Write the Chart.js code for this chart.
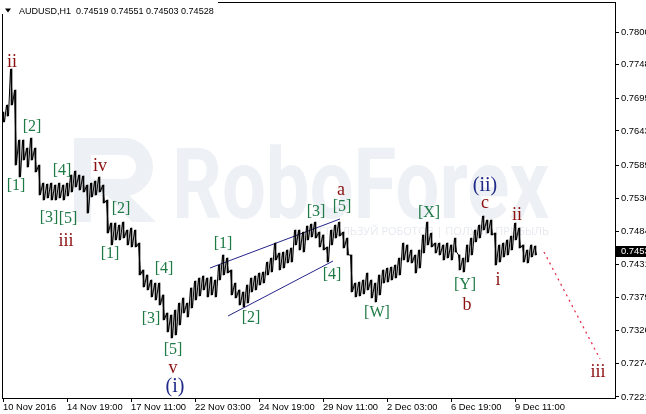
<!DOCTYPE html>
<html><head><meta charset="utf-8">
<script src="https://cdn.jsdelivr.net/npm/chart.js@4"></script>
<style>html,body{margin:0;padding:0;background:#fff;overflow:hidden}canvas{display:block}</style>
</head><body>
<canvas id="c" width="646" height="414" style="width:646px;height:414px"></canvas>
<script>
// ---------- data ----------
const symbol = 'AUDUSD,H1';
const headerOHLC = ['0.74519', '0.74551', '0.74503', '0.74528'];
const lastClose = 0.74528;

// high / low of each 4-bar (H1) block
const segHigh = [0.76730,0.76842,0.77413,0.77080,0.76287,0.76287,0.76160,0.76318,0.76160,0.75890,
0.75604,0.75588,0.75604,0.75573,0.75604,0.75573,0.75604,0.75732,0.75795,0.75732,
0.75716,0.75573,0.75604,0.75636,0.75700,0.75573,0.75335,0.74970,0.74970,0.74938,
0.74986,0.74859,0.74891,0.74859,0.74653,0.74225,0.74146,0.74066,0.74018,0.74018,
0.73829,0.73543,0.73511,0.73590,0.73701,0.73781,0.73701,0.73940,0.74050,0.74098,
0.74130,0.74098,0.74114,0.74066,0.74304,0.74463,0.74415,0.74225,0.74018,0.73908,
0.73876,0.73987,0.74098,0.74130,0.74177,0.74193,0.74351,0.74415,0.74653,0.74494,
0.74510,0.74542,0.74574,0.74859,0.74859,0.74827,0.74923,0.74954,0.74986,0.74827,
0.74780,0.74590,0.74859,0.74938,0.74986,0.74827,0.74732,0.74463,0.74018,0.74034,
0.74066,0.74177,0.74066,0.74018,0.74146,0.74225,0.74256,0.74272,0.74304,0.74415,
0.74653,0.74622,0.74542,0.74463,0.74542,0.74780,0.74986,0.74811,0.74653,0.74653,
0.74622,0.74653,0.74622,0.74732,0.74463,0.74415,0.74622,0.74732,0.74859,0.74938,
0.75081,0.75018,0.75018,0.74811,0.74622,0.74653,0.74701,0.74764,0.74970,0.74891,
0.74622,0.74542,0.74622,0.74606];
const segLow = [0.76572,0.76667,0.76842,0.75890,0.75700,0.75969,0.75858,0.75969,0.75779,0.75415,
0.75335,0.75367,0.75335,0.75335,0.75367,0.75335,0.75399,0.75462,0.75541,0.75494,
0.75462,0.75128,0.75383,0.75415,0.75462,0.75287,0.74811,0.74622,0.74701,0.74701,
0.74732,0.74622,0.74590,0.74590,0.74146,0.73955,0.73908,0.73797,0.73749,0.73670,
0.73432,0.73242,0.73146,0.73194,0.73353,0.73543,0.73479,0.73622,0.73749,0.73813,
0.73908,0.73797,0.73829,0.73797,0.74066,0.74146,0.74177,0.73829,0.73781,0.73670,
0.73638,0.73701,0.73876,0.73908,0.73987,0.74018,0.74146,0.74193,0.74383,0.74225,
0.74256,0.74336,0.74351,0.74622,0.74542,0.74510,0.74701,0.74748,0.74732,0.74590,
0.74542,0.74351,0.74622,0.74732,0.74764,0.74574,0.74463,0.73876,0.73797,0.73813,
0.73845,0.73908,0.73781,0.73717,0.73829,0.74018,0.74034,0.74066,0.74098,0.74146,
0.74383,0.74351,0.74336,0.74177,0.74256,0.74494,0.74622,0.74590,0.74494,0.74463,
0.74383,0.74415,0.74383,0.74510,0.74225,0.74193,0.74351,0.74463,0.74669,0.74732,
0.74859,0.74811,0.74780,0.74304,0.74351,0.74431,0.74463,0.74542,0.74701,0.74574,
0.74351,0.74336,0.74431,0.74463];

const timeLabels = ['10 Nov 2016','14 Nov 19:00','17 Nov 11:00','22 Nov 03:00','24 Nov 19:00','29 Nov 11:00','2 Dec 03:00','6 Dec 19:00','9 Dec 11:00'];
const timeTickBars = [1,65,129,193,257,321,385,449,513];
const priceTickLabels = ['0.7800','0.7748','0.7695','0.7643','0.7589','0.7536','0.7484','0.7431','0.7379','0.7326','0.7274','0.7221'];

// Elliott wave labels: text, bar, price, degree
const waveText  = ['ii','[2]','[1]','[4]','iv','[3]','[5]','iii','[2]','[1]','[4]','[3]','[5]','v','(i)','[1]','[2]','[3]','a','[5]','[4]','[W]','[X]','[Y]','b','(ii)','c','ii','i','iii'];
const waveBar   = [10,30,14,60,98,47,66,64,119,108,162,149,171,171,173,221,249,314,339,340,330,375,427,463,465,483,483,515,496,596];
const wavePrice = [0.77523,0.76493,0.75557,0.75795,0.75874,0.75050,0.75034,0.74685,0.75192,0.74479,0.74241,0.73448,0.72956,0.72671,0.72369,0.74637,0.73463,0.75145,0.75494,0.75224,0.74146,0.73543,0.75128,0.73987,0.73670,0.75557,0.75287,0.75097,0.74066,0.72608];
const waveKind  = ['r','g','g','g','r','g','g','r','g','g','g','g','g','r','b','g','g','g','r','g','g','g','g','g','r','b','r','r','r','r'];

const channelUpperBars = [208, 338], channelUpperPrices = [0.74256, 0.75034];
const channelLowerBars = [226, 331], channelLowerPrices = [0.73495, 0.74367];
const forecastBars = [542, 598], forecastPrices = [0.74510, 0.72813];

// ---------- build ----------
const zig = [];
segHigh.forEach((h, i) => { zig.push({x: 4*i + 0.5, y: h}); zig.push({x: 4*i + 2.5, y: segLow[i]}); });
const ranges = segHigh.map((h, i) => ({x: 4*i + 1.5, y: [segLow[i], h]}));
const pts = (b, p) => b.map((v, i) => ({x: v, y: p[i]}));
const priceTickValues = priceTickLabels.map(Number);
const AXFONT = '"Liberation Sans", Arial, sans-serif';

const mt4 = {
  id: 'mt4',
  beforeDraw(chart) {
    const c = chart.ctx; c.save(); c.fillStyle = '#fff'; c.fillRect(0, 0, chart.width, chart.height); c.restore();
  },
  beforeDatasetsDraw(chart) {
    const c = chart.ctx, a = chart.chartArea;
    c.save();
    c.beginPath(); c.rect(a.left, a.top, a.right - a.left, a.bottom - a.top); c.clip();
    const wm = '#edf0f4';
    c.fillStyle = wm; c.strokeStyle = wm;
    // logo
    c.fillRect(74, 138, 17, 84);
    c.lineWidth = 17;
    c.beginPath();
    c.moveTo(82, 146.5); c.lineTo(124, 146.5);
    c.arc(124, 167, 20.5, -Math.PI/2, Math.PI/2);
    c.lineTo(82, 187.5);
    c.stroke();
    c.beginPath(); c.moveTo(104, 192); c.lineTo(126, 192); c.lineTo(156, 222); c.lineTo(132, 222); c.closePath(); c.fill();
    // word mark
    c.font = 'bold 98px Roboto, "Open Sans", sans-serif';
    c.textBaseline = 'alphabetic'; c.textAlign = 'left';
    const w = c.measureText('RoboForex').width;
    c.save(); c.translate(172, 218); c.scale(377 / w, 1); c.fillText('RoboForex', 0, 0); c.restore();
    c.fillStyle = '#e6e9ee';
    c.font = '11px "Open Sans", sans-serif';
    c.textAlign = 'right';
    c.fillText('ИСПОЛЬЗУЙ РОБОТОВ | ПОЛУЧИ ПРИБЫЛЬ', 549, 235);
    c.restore();
  },
  afterDatasetsDraw(chart) {
    const c = chart.ctx, xs = chart.scales.x, ys = chart.scales.y;
    c.save();
    c.textAlign = 'center'; c.textBaseline = 'middle';
    const style = {r: ['#8b1010', 18], g: ['#1d7a45', 16], b: ['#1f2a88', 20]};
    waveText.forEach((t, i) => {
      const [col, sz] = style[waveKind[i]];
      c.fillStyle = col;
      c.font = sz + 'px "Liberation Serif", "Times New Roman", serif';
      c.fillText(t, xs.getPixelForValue(waveBar[i]), ys.getPixelForValue(wavePrice[i]));
    });
    c.restore();
  },
  afterDraw(chart) {
    const c = chart.ctx, ys = chart.scales.y;
    c.save();
    c.strokeStyle = '#000'; c.lineWidth = 1;
    c.beginPath();
    c.moveTo(2.5, 2); c.lineTo(2.5, 399);
    c.moveTo(2, 2.5); c.lineTo(616, 2.5);
    c.moveTo(615.5, 2); c.lineTo(615.5, 399);
    c.moveTo(2, 398.5); c.lineTo(616, 398.5);
    c.stroke();
    // header
    c.fillStyle = '#fff'; c.fillRect(0, 0, 218, 14);
    c.fillStyle = '#000';
    c.beginPath(); c.moveTo(5, 8.5); c.lineTo(11, 8.5); c.lineTo(8, 12.5); c.closePath(); c.fill();
    c.font = '9px ' + AXFONT; c.textBaseline = 'alphabetic'; c.textAlign = 'left';
    c.fillText(symbol + '  ' + headerOHLC.join(' '), 19, 13.5);
    // current price box
    const y = Math.round(ys.getPixelForValue(lastClose));
    c.fillStyle = '#000'; c.fillRect(616, y - 5, 30, 11);
    c.fillStyle = '#fff'; c.font = '9.4px ' + AXFONT; c.textBaseline = 'middle';
    c.fillText(lastClose.toFixed(4), 621, y + 0.5);
    c.restore();
  }
};

new Chart(document.getElementById('c'), {
  data: {
    datasets: [
      {type: 'bar', data: ranges, backgroundColor: '#000', barThickness: 1, borderWidth: 0},
      {type: 'line', data: zig, borderColor: '#000', borderWidth: 1, pointRadius: 0, tension: 0},
      {type: 'line', data: pts(channelUpperBars, channelUpperPrices), borderColor: '#24248a', borderWidth: 1, pointRadius: 0},
      {type: 'line', data: pts(channelLowerBars, channelLowerPrices), borderColor: '#24248a', borderWidth: 1, pointRadius: 0},
      {type: 'line', data: pts(forecastBars, forecastPrices), borderColor: '#e5304f', borderWidth: 1.3, borderDash: [2, 4], pointRadius: 0}
    ]
  },
  options: {
    responsive: false, animation: false, devicePixelRatio: 1,
    layout: {padding: {left: 2, top: 2, right: 0, bottom: 0}},
    plugins: {legend: {display: false}, tooltip: {enabled: false}},
    events: [],
    scales: {
      x: {
        type: 'linear', min: 0, max: 613, position: 'bottom', offset: false,
        afterBuildTicks: s => { s.ticks = timeTickBars.map(v => ({value: v})); },
        afterFit: s => { s.height = 16; s.paddingLeft = 0; s.paddingRight = 0; },
        ticks: {autoSkip: false, maxRotation: 0, minRotation: 0, align: 'start', padding: 0,
          color: '#000', font: {family: AXFONT, size: 9.4},
          callback: (v, i) => timeLabels[i]},
        grid: {drawOnChartArea: false, drawTicks: true, tickLength: 4, color: '#000', offset: false},
        border: {display: false}
      },
      y: {
        type: 'linear', position: 'right', min: 0.72194, max: 0.78476,
        afterBuildTicks: s => { s.ticks = priceTickValues.map(v => ({value: v})); },
        afterFit: s => { s.width = 31; s.paddingTop = 0; s.paddingBottom = 0; },
        ticks: {autoSkip: false, padding: 2, color: '#000', font: {family: AXFONT, size: 9.4},
          callback: (v, i) => priceTickLabels[i]},
        grid: {drawOnChartArea: false, drawTicks: true, tickLength: 4, color: '#000'},
        border: {display: false}
      }
    }
  },
  plugins: [mt4]
});
</script>
</body></html>
